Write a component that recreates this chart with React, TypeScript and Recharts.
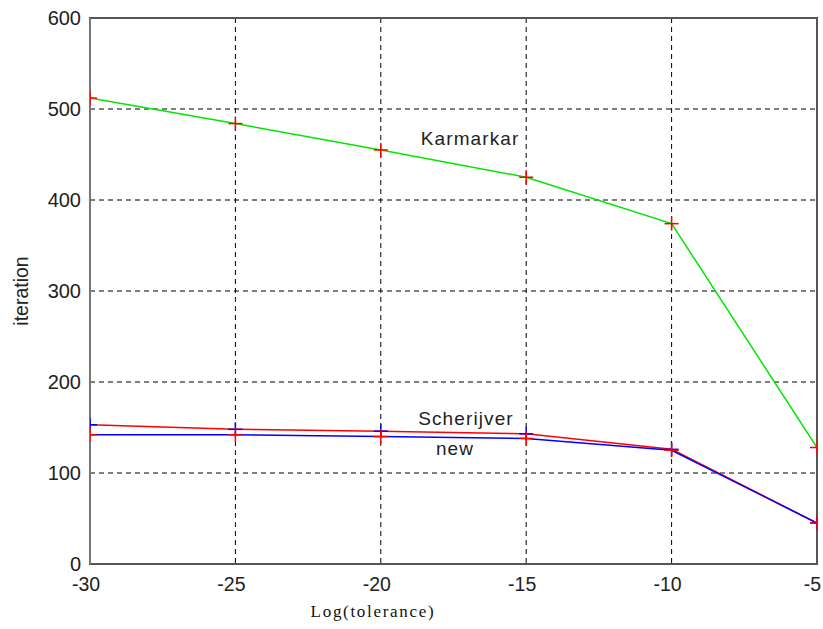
import React from "react";
import {
  LineChart,
  Line,
  XAxis,
  YAxis,
  CartesianGrid,
  ReferenceArea,
  ReferenceDot,
} from "recharts";

const tolerance = [-30, -25, -20, -15, -10, -5];
const karmarkar = [512, 484, 455, 425, 374, 128];
const scherijver = [153, 148, 146, 143, 126, 45];
const newMethod = [142, 142, 140, 138, 125, 45];

const xTicks = [-30, -25, -20, -15, -10, -5];
const yTicks = [0, 100, 200, 300, 400, 500, 600];

const annotations = [
  { x: -16.93, y: 460, text: "Karmarkar" },
  { x: -17.07, y: 152.7, text: "Scherijver" },
  { x: -17.45, y: 119.8, text: "new" },
];

const data = tolerance.map((t, i) => ({
  t,
  k: karmarkar[i],
  s: scherijver[i],
  n: newMethod[i],
}));

const SANS = "'Liberation Sans', Arial, sans-serif";
const SERIF = "'Liberation Serif', 'Times New Roman', serif";

const makePlus = (color: string) => (p: any) => {
  const { cx, cy, index } = p;
  if (cx == null || cy == null) return <g key={`e-${color}-${index}`} />;
  return (
    <g key={`p-${color}-${index}`}>
      <line x1={cx - 7} x2={cx + 7} y1={cy} y2={cy} stroke={color} strokeWidth={1.5} />
      <line x1={cx} x2={cx} y1={cy - 7} y2={cy + 7} stroke={color} strokeWidth={1.5} />
    </g>
  );
};

const XTick = (p: any) => (
  <text
    x={p.x - 4}
    y={p.y + 27}
    textAnchor="middle"
    fontSize={19.5}
    fontFamily={SANS}
    fill="#222"
  >
    {p.payload.value}
  </text>
);

const YTick = (p: any) => (
  <text
    x={p.x - 9}
    y={p.y}
    dy="0.34em"
    textAnchor="end"
    fontSize={20}
    fontFamily={SANS}
    fill="#222"
  >
    {p.payload.value}
  </text>
);

const XLabel = (p: any) => {
  const vb = p.viewBox || { x: 90, y: 564 };
  return (
    <text
      x={vb.x + 283}
      y={vb.y + 53}
      textAnchor="middle"
      fontSize={17}
      letterSpacing={1.7}
      fontFamily={SERIF}
      fill="#111"
    >
      Log(tolerance)
    </text>
  );
};

const YLabel = (p: any) => {
  const vb = p.viewBox || { x: 0, y: 18, width: 90, height: 546 };
  const cx = vb.x + 21;
  const cy = vb.y + vb.height / 2;
  return (
    <text
      x={cx}
      y={cy}
      textAnchor="middle"
      dominantBaseline="central"
      transform={`rotate(-90, ${cx}, ${cy})`}
      fontSize={19.5}
      fontFamily={SANS}
      fill="#222"
    >
      iteration
    </text>
  );
};

const makeAnnot = (text: string) => (p: any) => (
  <text
    x={p.cx}
    y={p.cy}
    textAnchor="middle"
    fontSize={19}
    letterSpacing={1.1}
    fontFamily={SANS}
    fill="#222"
  >
    {text}
  </text>
);

export default function App() {
  return (
    <div style={{ position: "absolute", left: 0, top: 0, background: "#fff" }}>
      <LineChart
        width={823}
        height={629}
        data={data}
        margin={{ top: 18, right: 6, bottom: 0, left: 0 }}
      >
        <CartesianGrid stroke="#000" strokeDasharray="5 4" strokeWidth={1} />
        <XAxis
          dataKey="t"
          type="number"
          domain={[-30, -5]}
          ticks={xTicks}
          height={65}
          tickSize={0}
          tickMargin={0}
          tickLine={false}
          axisLine={{ stroke: "#555", strokeWidth: 2 }}
          tick={XTick}
          label={{ content: XLabel }}
          allowDataOverflow
        />
        <YAxis
          type="number"
          domain={[0, 600]}
          ticks={yTicks}
          width={90}
          tickSize={0}
          tickMargin={0}
          tickLine={false}
          axisLine={{ stroke: "#777", strokeWidth: 2 }}
          tick={YTick}
          label={{ content: YLabel }}
          allowDataOverflow
        />
        <ReferenceArea
          x1={-30}
          x2={-5}
          y1={0}
          y2={600}
          fill="none"
          stroke="#555"
          strokeWidth={2}
          fillOpacity={0}
        />
        <Line
          dataKey="k"
          stroke="#00e600"
          strokeWidth={1.5}
          dot={makePlus("#ff0000")}
          isAnimationActive={false}
        />
        <Line
          dataKey="s"
          stroke="#ff0000"
          strokeWidth={1.5}
          dot={makePlus("#0000ff")}
          isAnimationActive={false}
        />
        <Line
          dataKey="n"
          stroke="#0000ff"
          strokeWidth={1.5}
          dot={makePlus("#ff0000")}
          isAnimationActive={false}
        />
        {annotations.map((a) => (
          <ReferenceDot
            key={a.text}
            x={a.x}
            y={a.y}
            r={0}
            shape={makeAnnot(a.text)}
          />
        ))}
      </LineChart>
    </div>
  );
}
